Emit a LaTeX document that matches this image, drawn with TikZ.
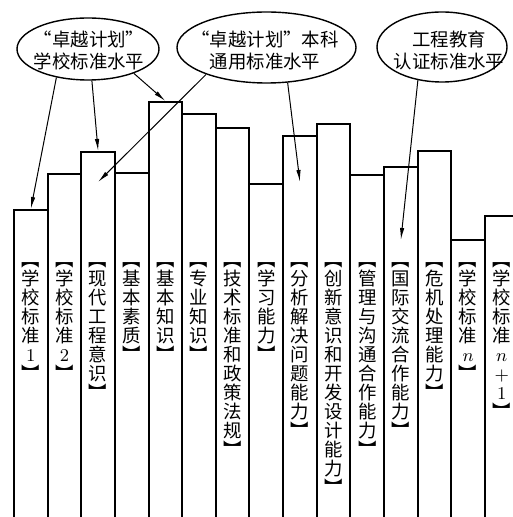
\documentclass[tikz,border=0pt]{standalone}
\usepackage{fontspec}
\newfontfamily\cjk{Noto Sans CJK SC}
\usetikzlibrary{arrows.meta, shapes.geometric}
\tikzset{>={Latex[length=6pt,width=2.2pt]}}
\tikzset{
  bar/.style={draw, line width=1pt, anchor=north west, minimum width=16.82pt, inner sep=0pt},
  lvl/.style={ellipse, draw, line width=0.7pt, inner sep=0pt},
  lvltext/.style={inner sep=0pt, align=center, font=\cjk\fontsize{9.2}{11}\selectfont},
  vlab/.style={anchor=north, inner sep=0pt, align=center, font=\cjk\fontsize{9.2}{9.5}\selectfont},
  pnt/.style={->, line width=0.5pt}
}

\begin{document}
\begin{tikzpicture}[x=0.5pt, y=-0.5pt]
\useasboundingbox (0,0) rectangle (512,517);
% bars, left to right
\foreach \i/\t in {1/209, 2/173, 3/151, 4/172, 5/101, 6/113, 7/127, 8/183, 9/135, 10/123, 11/174, 12/166, 13/150, 14/239, 15/215}
{
  \pgfmathsetmacro\h{(545-\t)*0.5}
  \node[bar, minimum height=\h pt] (b\i) at ({13+33.64*(\i-1)}, \t) {};
}
% labels of the bars
\coordinate (tl) at (0,262);
\node[vlab] (l1) at (b1.north |- tl) {︻\\学\\校\\标\\准\\$1$\\︼};
\node[vlab] (l2) at (b2.north |- tl) {︻\\学\\校\\标\\准\\$2$\\︼};
\node[vlab] (l3) at (b3.north |- tl) {︻\\现\\代\\工\\程\\意\\识\\︼};
\node[vlab] (l4) at (b4.north |- tl) {︻\\基\\本\\素\\质\\︼};
\node[vlab] (l5) at (b5.north |- tl) {︻\\基\\本\\知\\识\\︼};
\node[vlab] (l6) at (b6.north |- tl) {︻\\专\\业\\知\\识\\︼};
\node[vlab] (l7) at (b7.north |- tl) {︻\\技\\术\\标\\准\\和\\政\\策\\法\\规\\︼};
\node[vlab] (l8) at (b8.north |- tl) {︻\\学\\习\\能\\力\\︼};
\node[vlab] (l9) at (b9.north |- tl) {︻\\分\\析\\解\\决\\问\\题\\能\\力\\︼};
\node[vlab] (l10) at (b10.north |- tl) {︻\\创\\新\\意\\识\\和\\开\\发\\设\\计\\能\\力\\︼};
\node[vlab] (l11) at (b11.north |- tl) {︻\\管\\理\\与\\沟\\通\\合\\作\\能\\力\\︼};
\node[vlab] (l12) at (b12.north |- tl) {︻\\国\\际\\交\\流\\合\\作\\能\\力\\︼};
\node[vlab] (l13) at (b13.north |- tl) {︻\\危\\机\\处\\理\\能\\力\\︼};
\node[vlab] (l14) at (b14.north |- tl) {︻\\学\\校\\标\\准\\$n$\\︼};
\node[vlab] (l15) at (b15.north |- tl) {︻\\学\\校\\标\\准\\$n$\\$+$\\$1$\\︼};
% the three levels
\node[lvl, minimum width=71pt, minimum height=31pt] (e1) at (88,49) {};
\node[lvl, minimum width=89.5pt, minimum height=35.5pt] (e2) at (266.5,47.5) {};
\node[lvl, minimum width=65pt, minimum height=35pt] (e3) at (442,47) {};
\node[lvltext] (t1) at (89,50) {“卓越计划”\\学校标准水平};
\node[lvltext] (t2) at (265,50) {“卓越计划”本科\\通用标准水平};
\node[lvltext] (t3) at (449,50) {工程教育\\认证标准水平};
% arrows
\coordinate (p3) at ([yshift=-15.5pt]b3.north);
\coordinate (p9) at ([yshift=-23.5pt]b9.north);
\coordinate (p12) at ([yshift=-37pt]b12.north);
\draw[pnt] (e1.222) -- (b1.north);
\draw[pnt] (e1.277) -- (b3.north);
\draw[pnt] (e1.332) -- (b5.north);
\draw[pnt] (e2.204) -- (p3);
\draw[pnt] (e2.301) -- (p9);
\draw[pnt] (e3.234) -- (p12);
\end{tikzpicture}
\end{document}
